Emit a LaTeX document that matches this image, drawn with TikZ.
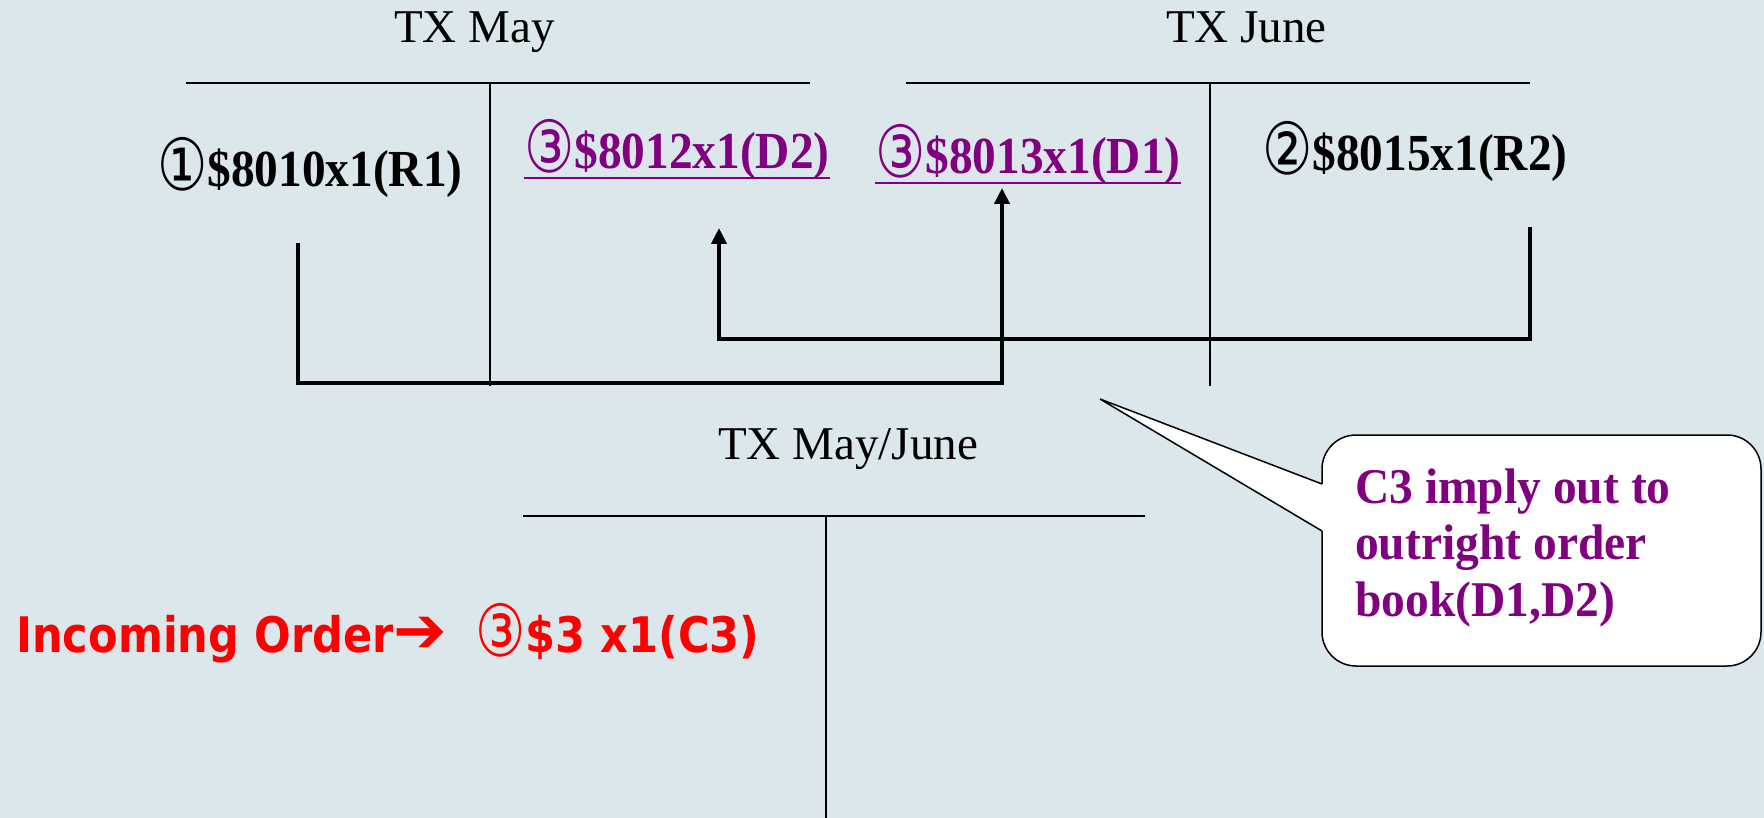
\documentclass[tikz,border=0pt]{standalone}
\usepackage{fontspec}
\setmainfont{Liberation Serif}
\newfontfamily\tbold{Liberation Serif}[UprightFont=* Bold, FakeStretch=0.91]
\newfontfamily\nbold{Liberation Serif}[UprightFont=* Bold, FakeStretch=0.95]
\newfontfamily\cdig{DejaVu Sans}[FakeStretch=0.78]
\newfontfamily\vbold{DejaVu Sans}[UprightFont=* Bold, FakeStretch=0.88]
\newfontfamily\vsym{DejaVu Sans}
\newcommand{\cnum}[1]{\raisebox{-4pt}{\fontsize{72}{72}\cdig #1}}
\usetikzlibrary{arrows.meta}
\definecolor{bg}{RGB}{219,231,235}
\definecolor{plum}{RGB}{128,0,128}
\definecolor{ordred}{RGB}{255,0,0}
\begin{document}
\begin{tikzpicture}[x=1pt,y=-1pt,
  title/.style={inner sep=0pt,anchor=base west,font=\fontsize{47}{50}\selectfont},
  order/.style={inner sep=0pt,anchor=base west,font=\fontsize{52}{56}\selectfont\tbold},
  incoming/.style={inner sep=0pt,anchor=base west,text=ordred,font=\fontsize{49}{52}\selectfont\vbold},
  ledger/.style={line width=2pt,black},
  conn/.style={line width=4pt,black,-{Triangle[width=15pt,length=16pt]}},
  uline/.style={plum,line width=2pt}]
\fill[bg] (0,0) rectangle (1764,818);
\useasboundingbox (0,0) rectangle (1764,818);

% titles
\node[title] (tmay) at (394,43) {TX May};
\node[title] (tjune) at (1166,43) {TX June};
\node[title] (tspread) at (718,459) {TX May/June};

% T-account lines
\draw[ledger] (186,83) -- (810,83);
\draw[ledger] (490,83) -- (490,386);
\draw[ledger] (906,83) -- (1530,83);
\draw[ledger] (1210,83) -- (1210,386);
\draw[ledger] (523,516) -- (1145,516);
\draw[ledger] (826,516) -- (826,818);

% orders
\node[order] (r1) at (157,187) {\cnum{①}\$8010x1(R1)};
\node[order,text=plum] (d2) at (524,169) {\cnum{③}\$8012x1(D2)};
\node[order,text=plum] (d1) at (875,174) {\cnum{③}\$8013x1(D1)};
\node[order] (r2) at (1262,171) {\cnum{②}\$8015x1(R2)};
\draw[uline] (d2.base west |- 0,178) -- (d2.base east |- 0,178);
\draw[uline] (d1.base west |- 0,183) -- (d1.base east |- 0,183);

% connectors
\coordinate (r1s) at (298,243);
\coordinate (d1t) at (1002,188);
\coordinate (bus1) at (0,383);
\coordinate (r2s) at (1530,227);
\coordinate (d2t) at (719,228);
\coordinate (bus2) at (0,339);
\draw[conn] (r1s) -- (r1s |- bus1) -| (d1t);
\draw[conn] (r2s) -- (r2s |- bus2) -| (d2t);

% incoming order
\node[incoming] (inc) at (16,652) {Incoming Order{\fontsize{64}{64}\vsym ➔}};
\node[incoming] (c3) at (475,652) {\cnum{③}\$3 x1(C3)};

% callout
\node[draw,line width=1.5pt,fill=white,rounded corners=34pt,minimum width=439pt,minimum height=231pt,inner sep=0pt] (callout) at (1541.5,550.5) {};
\coordinate (tip) at (1100,399);
\coordinate (pa) at (1322,484);
\coordinate (pb) at (1322,531);
\fill[white] (tip) -- (pa) -- ([xshift=3pt]pa) -- ([xshift=3pt]pb) -- (pb) -- cycle;
\draw[line width=1.5pt,line join=miter] (pa) -- (tip) -- (pb);
\node[inner sep=0pt,anchor=base west,text=plum,align=left,font=\fontsize{50}{56.5}\selectfont\nbold] (note) at (1355,616) {C3 imply out to\\outright order\\book(D1,D2)};
\end{tikzpicture}
\end{document}
